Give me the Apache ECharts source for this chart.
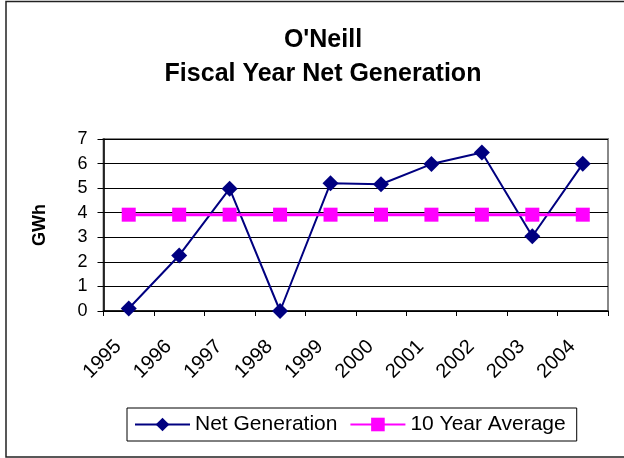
<!DOCTYPE html>
<html>
<head>
<meta charset="utf-8">
<script src="https://cdn.jsdelivr.net/npm/echarts@6/dist/echarts.min.js"></script>
<style>
    html, body { margin: 0; padding: 0; background: #fff; }
    #chart { width: 624px; height: 458px; }
</style>
</head>
<body>
<div id="chart"></div>
<script>
const years = ['1995', '1996', '1997', '1998', '1999', '2000', '2001', '2002', '2003', '2004'];
const netGeneration = [0.1, 2.26, 4.98, 0, 5.2, 5.16, 5.98, 6.45, 3.04, 5.99];
const tenYearAverage = [3.92, 3.92, 3.92, 3.92, 3.92, 3.92, 3.92, 3.92, 3.92, 3.92];
const yTicks = { min: 0, max: 7, interval: 1 };

const fontFamily = '"Liberation Sans", Arial, sans-serif';

const chart = echarts.init(document.getElementById('chart'), null, { renderer: 'canvas' });

chart.setOption({
    backgroundColor: '#fff',
    animation: false,
    graphic: [{
        // outer chart frame
        type: 'rect',
        shape: { x: 6, y: 1.5, width: 630, height: 455.5 },
        style: { fill: 'none', stroke: '#222', lineWidth: 1.5 },
        silent: true
    }],
    title: {
        text: "O'Neill\nFiscal Year Net Generation",
        left: 323,
        top: 23,
        padding: 0,
        textAlign: 'center',
        textStyle: { fontFamily, fontSize: 25, fontWeight: 'bold', color: '#000', lineHeight: 34 }
    },
    legend: {
        left: 127,
        top: 408,
        padding: [6, 11, 6, 7],
        itemGap: 12,
        itemWidth: 55,
        itemHeight: 17,
        borderColor: '#000',
        borderWidth: 1,
        textStyle: { fontFamily, fontSize: 21, color: '#000' },
        data: ['Net Generation', '10 Year Average']
    },
    grid: { left: 103.5, right: 16, top: 139, bottom: 147, show: true, borderColor: '#888', borderWidth: 2 },
    xAxis: {
        type: 'category',
        data: years,
        boundaryGap: true,
        axisLine: { lineStyle: { color: '#000', width: 1.5 } },
        axisTick: { show: true, length: 5, lineStyle: { color: '#000' } },
        axisLabel: { interval: 0, rotate: 45, margin: 22, padding: [0, 15, 0, 0], color: '#000', fontFamily, fontSize: 20 },
        splitLine: { show: false }
    },
    yAxis: {
        type: 'value',
        min: yTicks.min,
        max: yTicks.max,
        interval: yTicks.interval,
        name: 'GWh',
        nameLocation: 'middle',
        nameGap: 54,
        nameTextStyle: { fontFamily, fontSize: 18, fontWeight: 'bold', color: '#000' },
        axisLine: { show: true, lineStyle: { color: '#000', width: 1.5 } },
        axisTick: { show: true, length: 6, lineStyle: { color: '#000' } },
        axisLabel: { margin: 16, color: '#000', fontFamily, fontSize: 18 },
        splitLine: { show: true, lineStyle: { color: '#000', width: 1 } }
    },
    series: [
        {
            name: 'Net Generation',
            type: 'line',
            data: netGeneration,
            symbol: 'diamond',
            symbolSize: 16,
            lineStyle: { color: '#000080', width: 2 },
            itemStyle: { color: '#000080' }
        },
        {
            name: '10 Year Average',
            type: 'line',
            data: tenYearAverage,
            symbol: 'rect',
            symbolSize: 14,
            lineStyle: { color: '#FF00FF', width: 3 },
            itemStyle: { color: '#FF00FF' }
        }
    ]
});
</script>
</body>
</html>
